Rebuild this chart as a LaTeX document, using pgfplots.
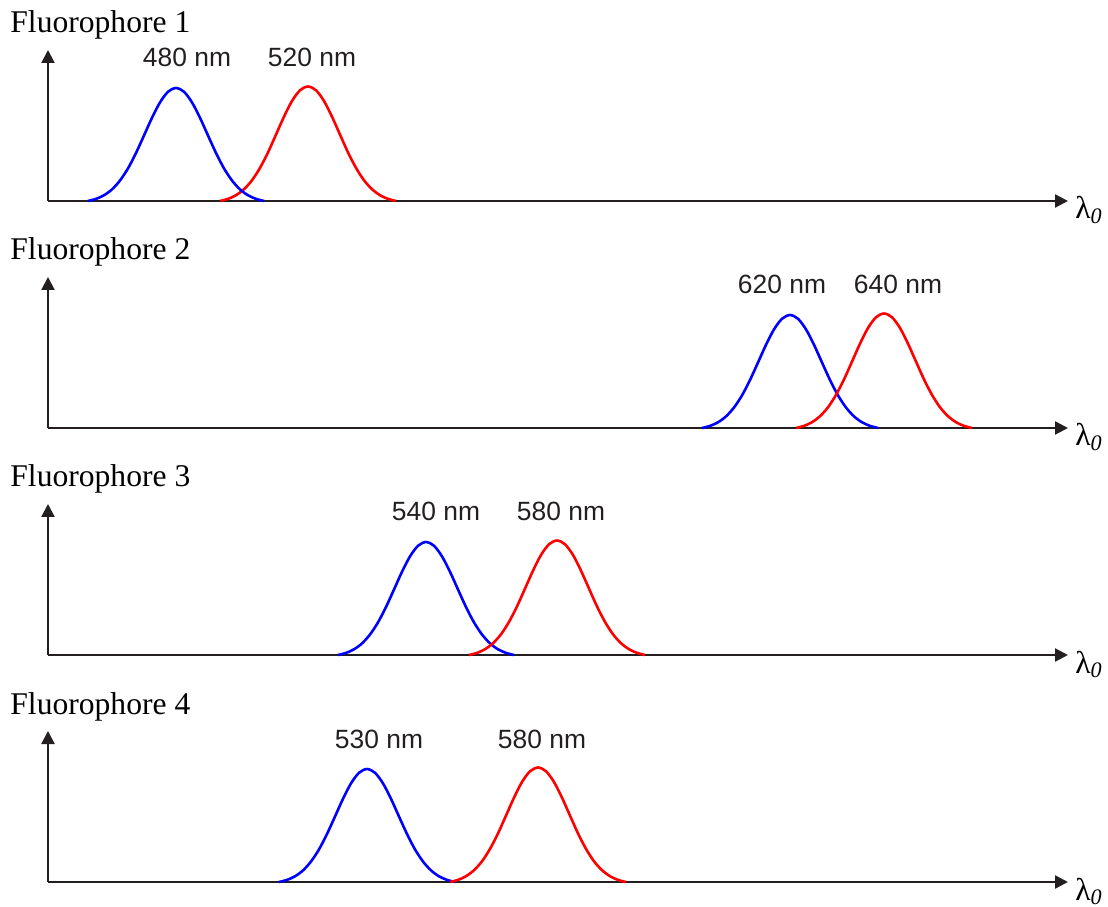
\documentclass[border=0pt]{standalone}
\usepackage{fontspec}
\setmainfont{Liberation Serif}
\newfontfamily\sansf{Liberation Sans}
\usepackage{pgfplots}
\pgfplotsset{compat=1.18}
\usetikzlibrary{arrows.meta}
\definecolor{axcol}{HTML}{231F20}
\pgfplotsset{
  panel/.style={
    scale only axis, width=510pt, height=75.5pt,
    xmin=0, xmax=1020, ymin=0, ymax=151,
    axis lines=left, xtick=\empty, ytick=\empty,
    axis line style={line width=1.1pt, draw=axcol, -{Triangle[length=6.5pt,width=6.5pt]}},
    clip=false, anchor=south west,
  },
  bl/.style={blue, line width=1.3pt, smooth, no marks},
  rd/.style={red, line width=1.3pt, smooth, no marks},
}
\newcommand{\flab}[1]{\node[anchor=base west, font=\fontsize{15.8}{18}\selectfont, inner sep=0pt] at (axis cs:-38,168) {Fluorophore #1};}
\newcommand{\lam}{\node[anchor=base west, font=\fontsize{15.8}{18}\selectfont, inner sep=0pt] at (axis cs:1027,-18) {λ\textsubscript{\itshape 0}};}
\newcommand{\nmlab}[2]{\node[anchor=base, font=\sansf\fontsize{13.2}{15}\selectfont, inner sep=0pt, text=axcol] at (axis cs:#1,134) {#2};}
\begin{document}
\begin{tikzpicture}
\useasboundingbox (0,0) rectangle (554pt,453pt);
% Panel 1
\begin{axis}[panel, at={(24pt,352.5pt)}]
\addplot[rd] coordinates {(172,0)(180,2.1)(188,5.8)(196,11.8)(204,20.7)(212,33.1)(220,48.6)(228,66.4)(236,84.3)(244,100.0)(252,110.7)(260,114.5)(268,110.7)(276,100.0)(284,84.3)(292,66.4)(300,48.6)(308,33.1)(316,20.7)(324,11.8)(332,5.8)(340,2.1)(348,0)};
\addplot[bl] coordinates {(40,0)(48,2.1)(56,5.7)(64,11.6)(72,20.5)(80,32.6)(88,48.0)(96,65.5)(104,83.2)(112,98.6)(120,109.2)(128,113)(136,109.2)(144,98.6)(152,83.2)(160,65.5)(168,48.0)(176,32.6)(184,20.5)(192,11.6)(200,5.7)(208,2.1)(216,0)};
\flab{1}\lam
\nmlab{139}{480 nm}\nmlab{264}{520 nm}
\end{axis}
% Panel 2
\begin{axis}[panel, at={(24pt,239pt)}]
\addplot[bl] coordinates {(654,0)(662,2.1)(670,5.7)(678,11.6)(686,20.5)(694,32.6)(702,48.0)(710,65.5)(718,83.2)(726,98.6)(734,109.2)(742,113)(750,109.2)(758,98.6)(766,83.2)(774,65.5)(782,48.0)(790,32.6)(798,20.5)(806,11.6)(814,5.7)(822,2.1)(830,0)};
\addplot[rd] coordinates {(748,0)(756,2.1)(764,5.8)(772,11.8)(780,20.7)(788,33.1)(796,48.6)(804,66.4)(812,84.3)(820,100.0)(828,110.7)(836,114.5)(844,110.7)(852,100.0)(860,84.3)(868,66.4)(876,48.6)(884,33.1)(892,20.7)(900,11.8)(908,5.8)(916,2.1)(924,0)};
\flab{2}\lam
\nmlab{734}{620 nm}\nmlab{850}{640 nm}
\end{axis}
% Panel 3
\begin{axis}[panel, at={(24pt,125.5pt)}]
\addplot[bl] coordinates {(290,0)(298,2.1)(306,5.7)(314,11.6)(322,20.5)(330,32.6)(338,48.0)(346,65.5)(354,83.2)(362,98.6)(370,109.2)(378,113)(386,109.2)(394,98.6)(402,83.2)(410,65.5)(418,48.0)(426,32.6)(434,20.5)(442,11.6)(450,5.7)(458,2.1)(466,0)};
\addplot[rd] coordinates {(421,0)(429,2.1)(437,5.8)(445,11.8)(453,20.7)(461,33.1)(469,48.6)(477,66.4)(485,84.3)(493,100.0)(501,110.7)(509,114.5)(517,110.7)(525,100.0)(533,84.3)(541,66.4)(549,48.6)(557,33.1)(565,20.7)(573,11.8)(581,5.8)(589,2.1)(597,0)};
\flab{3}\lam
\nmlab{388}{540 nm}\nmlab{513}{580 nm}
\end{axis}
% Panel 4
\begin{axis}[panel, at={(24pt,12pt)}]
\addplot[bl] coordinates {(231,0)(239,2.1)(247,5.7)(255,11.6)(263,20.5)(271,32.6)(279,48.0)(287,65.5)(295,83.2)(303,98.6)(311,109.2)(319,113)(327,109.2)(335,98.6)(343,83.2)(351,65.5)(359,48.0)(367,32.6)(375,20.5)(383,11.6)(391,5.7)(399,2.1)(407,0)};
\addplot[rd] coordinates {(402,0)(410,2.1)(418,5.8)(426,11.8)(434,20.7)(442,33.1)(450,48.6)(458,66.4)(466,84.3)(474,100.0)(482,110.7)(490,114.5)(498,110.7)(506,100.0)(514,84.3)(522,66.4)(530,48.6)(538,33.1)(546,20.7)(554,11.8)(562,5.8)(570,2.1)(578,0)};
\flab{4}\lam
\nmlab{331}{530 nm}\nmlab{494}{580 nm}
\end{axis}
\end{tikzpicture}
\end{document}
